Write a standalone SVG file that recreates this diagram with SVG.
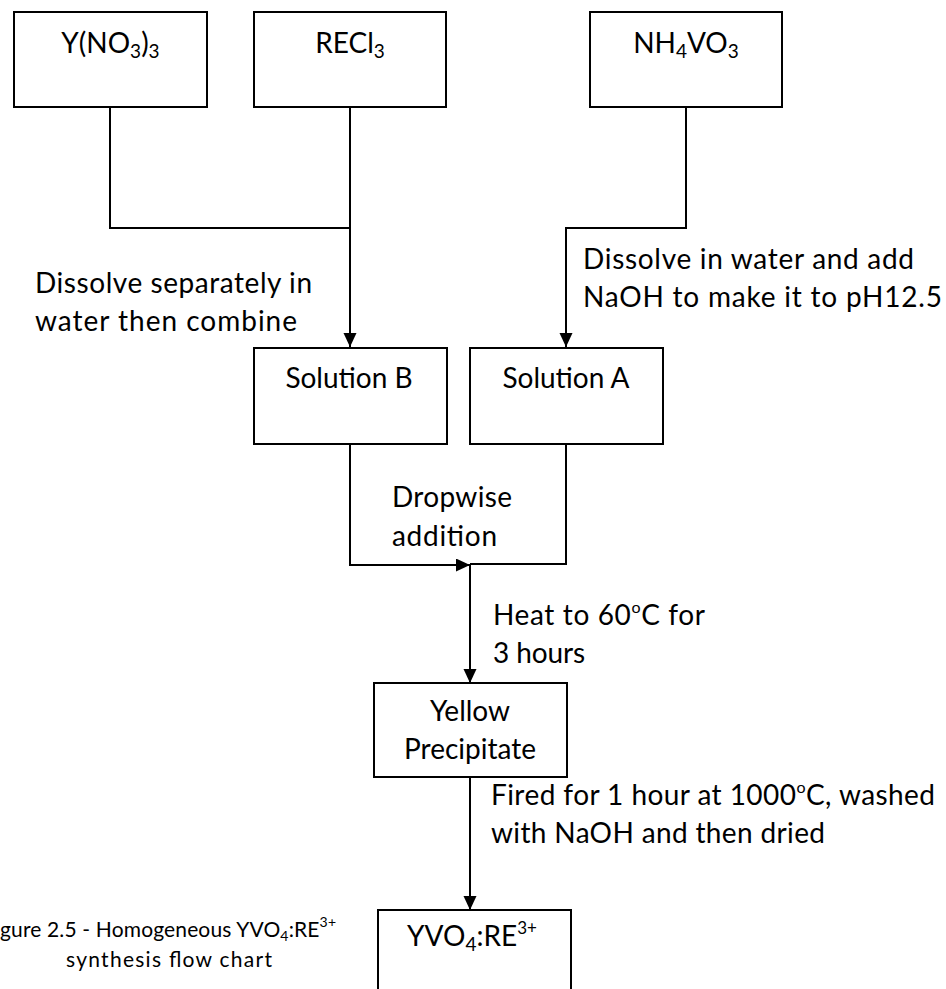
<svg xmlns="http://www.w3.org/2000/svg" width="946" height="989" viewBox="0 0 946 989">
<style>
.box{fill:#fff;stroke:#000;stroke-width:2}
.ln{fill:none;stroke:#000;stroke-width:2}
.t{font-family:Lato,"Open Sans",sans-serif;font-size:28px;fill:#000}
.c{text-anchor:middle}
.cap{font-family:Lato,"Open Sans",sans-serif;font-size:21px;fill:#000}
</style>
<defs>
<marker id="ah" markerUnits="userSpaceOnUse" markerWidth="14" markerHeight="14" refX="14" refY="6.5" orient="auto">
<path d="M0,0 L14,6.5 L0,13 Z" fill="#000"/>
</marker>
</defs>
<g id="connectors">
<path class="ln" d="M110,107 V228 H350"/>
<path class="ln" d="M350,107 V347" marker-end="url(#ah)"/>
<path class="ln" d="M686,107 V228 H566 V347" marker-end="url(#ah)"/>
<path class="ln" d="M350,444 V565 H470" marker-end="url(#ah)"/>
<path class="ln" d="M566,444 V564 H470"/>
<path class="ln" d="M470,564 V683" marker-end="url(#ah)"/>
<path class="ln" d="M470,777 V910" marker-end="url(#ah)"/>
</g>
<g id="n_yno3">
<rect class="box" x="14" y="12" width="193" height="95"/>
<text class="t c" x="110.5" y="53">Y(NO<tspan font-size="19" dy="5">3</tspan><tspan dy="-5">)</tspan><tspan font-size="19" dy="5">3</tspan></text>
</g>
<g id="n_recl3">
<rect class="box" x="254" y="12" width="192" height="95"/>
<text class="t c" x="350" y="53">RECl<tspan font-size="19" dy="5">3</tspan></text>
</g>
<g id="n_nh4vo3">
<rect class="box" x="590" y="12" width="192" height="95"/>
<text class="t c" x="686" y="53">NH<tspan font-size="19" dy="5">4</tspan><tspan dy="-5">VO</tspan><tspan font-size="19" dy="5">3</tspan></text>
</g>
<g id="lbl_dissolve_sep">
<text class="t" x="35" y="293" textLength="277">Dissolve separately in</text>
<text class="t" x="35" y="331" textLength="262">water then combine</text>
</g>
<g id="lbl_dissolve_water">
<text class="t" x="583" y="269" textLength="331">Dissolve in water and add</text>
<text class="t" x="583" y="307" textLength="359">NaOH to make it to pH12.5</text>
</g>
<g id="n_solB">
<rect class="box" x="254" y="348" width="193" height="96"/>
<text class="t c" x="349" y="388">Solution B</text>
</g>
<g id="n_solA">
<rect class="box" x="470" y="348" width="193" height="96"/>
<text class="t c" x="566" y="388">Solution A</text>
</g>
<g id="lbl_dropwise">
<text class="t" x="392" y="507" textLength="120">Dropwise</text>
<text class="t" x="392" y="546" textLength="105">addition</text>
</g>
<g id="lbl_heat">
<text class="t" x="493" y="625" textLength="212">Heat to 60<tspan font-size="16" dy="-12">o</tspan><tspan dy="12">C for</tspan></text>
<text class="t" x="493" y="663" textLength="92">3 hours</text>
</g>
<g id="n_yellow">
<rect class="box" x="374" y="683" width="193" height="94"/>
<text class="t c" x="470" y="721">Yellow</text>
<text class="t c" x="470" y="759">Precipitate</text>
</g>
<g id="lbl_fired">
<text class="t" x="491" y="805" textLength="444">Fired for 1 hour at 1000<tspan font-size="16" dy="-12">o</tspan><tspan dy="12">C, washed</tspan></text>
<text class="t" x="491" y="843" textLength="334">with NaOH and then dried</text>
</g>
<g id="n_yvo4">
<path class="ln" d="M378,989 V910 H571 V989"/>
<text class="t c" x="472" y="946">YVO<tspan font-size="19" dy="5">4</tspan><tspan dy="-5">:RE</tspan><tspan font-size="17" dy="-12">3+</tspan></text>
</g>
<g id="caption">
<text class="cap" x="0" y="937" textLength="336">gure 2.5 - Homogeneous YVO<tspan font-size="14" dy="4">4</tspan><tspan dy="-4">:RE</tspan><tspan font-size="14" dy="-10">3+</tspan></text>
<text class="cap c" x="169" y="967" textLength="206">synthesis flow chart</text>
</g>
</svg>
